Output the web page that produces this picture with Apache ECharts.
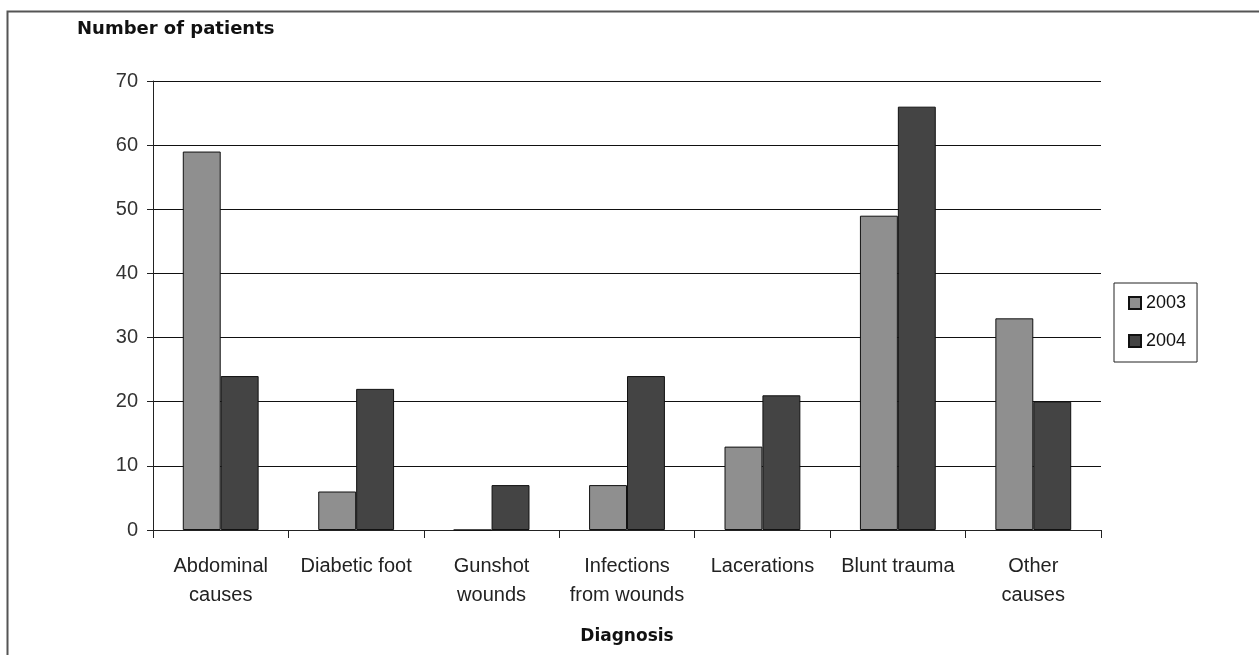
<!DOCTYPE html>
<html>
<head>
<meta charset="utf-8">
<script src="https://cdn.jsdelivr.net/npm/echarts@6/dist/echarts.min.js"></script>
<style>
  html, body { margin: 0; padding: 0; background: #fff; }
  #chart { width: 1259px; height: 655px; }
</style>
</head>
<body>
<div id="chart"></div>
<script>
// Patients by diagnosis, 2003 vs 2004
const categories = ['Abdominal\ncauses', 'Diabetic foot', 'Gunshot\nwounds', 'Infections\nfrom wounds', 'Lacerations', 'Blunt trauma', 'Other\ncauses'];
const values2003 = [59, 6, 0, 7, 13, 49, 33];
const values2004 = [24, 22, 7, 24, 21, 66, 20];
const yTicks = { min: 0, max: 70, interval: 10 };

const FONT = '"Liberation Sans", Arial, sans-serif';
const BOLD_FONT = '"DejaVu Sans", "Liberation Sans", sans-serif';
const chart = echarts.init(document.getElementById('chart'), null, { renderer: 'canvas' });

chart.setOption({
  backgroundColor: '#ffffff',
  animation: false,
  graphic: [{
    type: 'rect',
    shape: { x: 7.5, y: 11.5, width: 1400, height: 800 },
    style: { fill: 'none', stroke: '#555', lineWidth: 2 },
    silent: true
  }],
  title: {
    text: 'Number of patients',
    left: 77, top: 20,
    padding: 0,
    textStyle: { fontFamily: BOLD_FONT, fontSize: 18, fontWeight: 'bold', color: '#111' }
  },
  legend: {
    orient: 'vertical',
    left: 1114, top: 283,
    padding: [11, 11, 12, 14],
    borderColor: '#222', borderWidth: 1,
    itemWidth: 12, itemHeight: 12, itemGap: 20,
    icon: 'rect',
    textStyle: { fontFamily: FONT, fontSize: 18, color: '#111' },
    data: ['2003', '2004']
  },
  grid: { left: 153, right: 158, top: 81, bottom: 125, containLabel: false },
  xAxis: {
    type: 'category',
    data: categories,
    name: 'Diagnosis',
    nameLocation: 'middle',
    nameGap: 98,
    nameTextStyle: { fontFamily: BOLD_FONT, fontSize: 17, fontWeight: 'bold', color: '#111' },
    axisLine: { lineStyle: { color: '#222', width: 1 } },
    axisTick: { show: true, length: 8, alignWithLabel: false, lineStyle: { color: '#222' } },
    axisLabel: { fontFamily: FONT, fontSize: 20, color: '#222', margin: 22, lineHeight: 29, interval: 0 }
  },
  yAxis: {
    type: 'value',
    min: yTicks.min, max: yTicks.max, interval: yTicks.interval,
    axisLine: { show: true, lineStyle: { color: '#222', width: 1 } },
    axisTick: { show: true, length: 6, lineStyle: { color: '#222' } },
    axisLabel: { fontFamily: FONT, fontSize: 20, color: '#333', margin: 15 },
    splitLine: { show: true, lineStyle: { color: '#111', width: 1 } }
  },
  series: [
    {
      name: '2003', type: 'bar', data: values2003,
      barGap: '0%', barCategoryGap: '44%',
      itemStyle: { color: '#8f8f8f', borderColor: '#111', borderWidth: 1 }
    },
    {
      name: '2004', type: 'bar', data: values2004,
      itemStyle: { color: '#444444', borderColor: '#111', borderWidth: 1 }
    }
  ]
});
</script>
</body>
</html>
